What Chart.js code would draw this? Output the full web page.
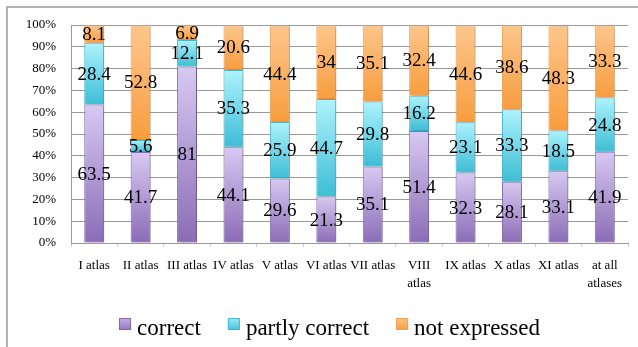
<!DOCTYPE html>
<html>
<head>
<meta charset="utf-8">
<script src="https://cdn.jsdelivr.net/npm/chart.js@4/dist/chart.umd.min.js"></script>
<style>
  html, body { margin: 0; padding: 0; background: #ffffff; }
  canvas { display: block; }
</style>
</head>
<body>
<canvas id="chart" width="638" height="347"></canvas>
<script>
// Share of answers per atlas (percent)
const categories = ['I atlas', 'II atlas', 'III atlas', 'IV atlas', 'V atlas', 'VI atlas', 'VII atlas',
  ['VIII', 'atlas'], 'IX atlas', 'X atlas', 'XI atlas', ['at all', 'atlases']];
const correct       = [63.5, 41.7, 81,   44.1, 29.6, 21.3, 35.1, 51.4, 32.3, 28.1, 33.1, 41.9];
const partlyCorrect = [28.4, 5.6,  12.1, 35.3, 25.9, 44.7, 29.8, 16.2, 23.1, 33.3, 18.5, 24.8];
const notExpressed  = [8.1,  52.8, 6.9,  20.6, 44.4, 34,   35.1, 32.4, 44.6, 38.6, 48.3, 33.3];
const seriesNames = ['correct', 'partly correct', 'not expressed'];
const yTicks = [0, 10, 20, 30, 40, 50, 60, 70, 80, 90, 100];

const seriesValues = [correct, partlyCorrect, notExpressed];
const palette = [
  { top: '#d8c9f2', bottom: '#8a6cb6', border: 'rgba(128,100,170,0.9)', legend: ['#c4b0e6', '#9478c0'] },
  { top: '#aef3fd', bottom: '#3dbdd6', border: 'rgba(60,180,205,0.9)',  legend: ['#9aeaf8', '#44c2da'] },
  { top: '#fdc68c', bottom: '#f89d3e', border: 'rgba(240,160,80,0.9)',  legend: ['#fcc186', '#f7a048'] }
];
const serif = '"Liberation Serif", "Times New Roman", serif';

// vertical gradient inside each stacked segment
function segmentFill(ctx) {
  const p = palette[ctx.datasetIndex];
  if (ctx.type !== 'data') return p.bottom;
  const chart = ctx.chart;
  const y = chart.scales && chart.scales.y;
  if (!y) return p.bottom;
  let base = 0;
  for (let d = 0; d < ctx.datasetIndex; d++) base += seriesValues[d][ctx.dataIndex];
  const top = base + seriesValues[ctx.datasetIndex][ctx.dataIndex];
  const y0 = y.getPixelForValue(Math.min(top, 100));
  const y1 = y.getPixelForValue(base);
  if (!isFinite(y0) || !isFinite(y1) || y0 === y1) return p.bottom;
  const g = chart.ctx.createLinearGradient(0, y0, 0, y1);
  g.addColorStop(0, p.top);
  g.addColorStop(1, p.bottom);
  return g;
}

// page frame
const framePlugin = {
  id: 'frame',
  beforeDraw(chart) {
    const c = chart.ctx;
    c.save();
    c.fillStyle = '#ffffff';
    c.fillRect(0, 0, chart.width, chart.height);
    c.strokeStyle = '#b3b3b3';
    c.lineWidth = 2;
    c.beginPath();
    c.moveTo(7, chart.height);
    c.lineTo(7, 7);
    c.lineTo(chart.width, 7);
    c.stroke();
    c.restore();
  }
};

// soft shadow behind the bars
const shadowPlugin = {
  id: 'barShadow',
  beforeDatasetsDraw(chart) {
    const c = chart.ctx;
    c.save();
    c.shadowColor = 'rgba(0,0,0,0.28)';
    c.shadowBlur = 3;
    c.shadowOffsetX = 1.5;
    c.shadowOffsetY = 1;
  },
  afterDatasetsDraw(chart) {
    chart.ctx.restore();
  }
};

// value written in the middle of each segment
const valueLabels = {
  id: 'valueLabels',
  afterDatasetsDraw(chart) {
    const c = chart.ctx;
    c.save();
    c.font = '19px ' + serif;
    c.fillStyle = '#000000';
    c.textAlign = 'center';
    c.textBaseline = 'middle';
    chart.data.datasets.forEach((ds, i) => {
      const meta = chart.getDatasetMeta(i);
      meta.data.forEach((bar, j) => {
        const top = Math.max(bar.y, chart.chartArea.top);
        c.fillText(String(ds.data[j]), bar.x, (top + bar.base) / 2 + 1);
      });
    });
    c.restore();
  }
};

// legend row below the axis
const legendRow = {
  id: 'legendRow',
  afterDraw(chart) {
    const c = chart.ctx;
    c.save();
    c.font = '23px ' + serif;
    const box = 12, gap = 6, spacing = 27;
    const widths = seriesNames.map(n => c.measureText(n).width);
    const total = widths.reduce((a, w) => a + box + gap + w, 0) + spacing * (seriesNames.length - 1);
    let x = 329.5 - total / 2;
    const baseline = chart.height - 12;
    const boxTop = baseline - 17;
    seriesNames.forEach((name, i) => {
      const g = c.createLinearGradient(0, boxTop, 0, boxTop + box);
      g.addColorStop(0, palette[i].legend[0]);
      g.addColorStop(1, palette[i].legend[1]);
      c.fillStyle = g;
      c.fillRect(x, boxTop, box, box);
      c.strokeStyle = palette[i].border;
      c.lineWidth = 1;
      c.strokeRect(x + 0.5, boxTop + 0.5, box - 1, box - 1);
      c.fillStyle = '#000000';
      c.textBaseline = 'alphabetic';
      c.textAlign = 'left';
      c.fillText(name, x + box + gap, baseline);
      x += box + gap + widths[i] + spacing;
    });
    c.restore();
  }
};

new Chart(document.getElementById('chart'), {
  type: 'bar',
  data: {
    labels: categories,
    datasets: seriesValues.map((vals, i) => ({
      label: seriesNames[i],
      data: vals,
      backgroundColor: segmentFill,
      borderColor: palette[i].border,
      borderWidth: 1,
      borderSkipped: false,
      barPercentage: 0.43,
      categoryPercentage: 1
    }))
  },
  options: {
    responsive: false,
    animation: false,
    devicePixelRatio: 1,
    layout: { padding: { top: 25, left: 0, right: 10, bottom: 40 } },
    plugins: {
      legend: { display: false },
      tooltip: { enabled: false }
    },
    scales: {
      x: {
        stacked: true,
        afterFit(scale) { scale.height = 64; },
        grid: {
          display: true,
          drawOnChartArea: false,
          drawTicks: true,
          tickLength: 4,
          color: '#cfcfcf',
          offset: true
        },
        border: { display: true, color: '#9a9a9a' },
        ticks: {
          color: '#000000',
          padding: 10,
          maxRotation: 0,
          autoSkip: false,
          font: { family: serif, size: 13, lineHeight: 1.385 }
        }
      },
      y: {
        stacked: true,
        min: 0,
        max: 100,
        afterFit(scale) { scale.width = 71; },
        afterBuildTicks(scale) { scale.ticks = yTicks.map(v => ({ value: v })); },
        grid: { color: '#9a9a9a', drawTicks: false, lineWidth: 1 },
        border: { display: true, color: '#9a9a9a' },
        ticks: {
          color: '#000000',
          padding: 15,
          font: { family: serif, size: 13 },
          callback: v => v + '%'
        }
      }
    }
  },
  plugins: [framePlugin, shadowPlugin, valueLabels, legendRow]
});
</script>
</body>
</html>
